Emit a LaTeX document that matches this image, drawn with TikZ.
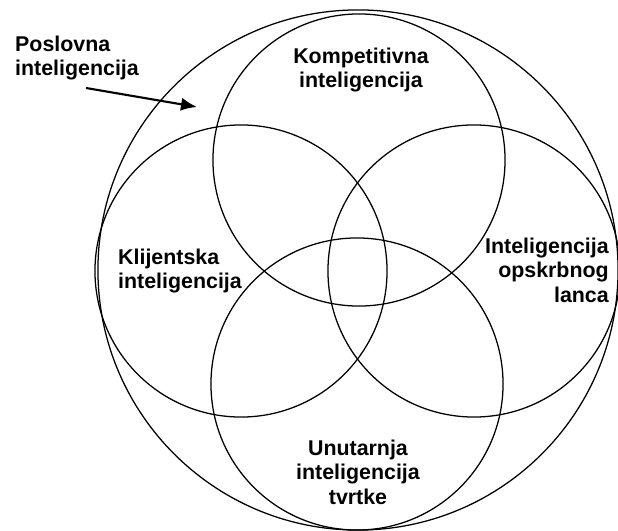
\documentclass[tikz,border=0pt]{standalone}
\usepackage{fontspec}
\setmainfont{Liberation Sans}
\usetikzlibrary{arrows.meta}
\begin{document}
\begin{tikzpicture}
[x=0.025cm,y=-0.025cm,
  circledecorate/.style={shape=circle,inner sep=0pt,outer sep=0pt,draw,line width=0.9pt,minimum size=7.3cm},%
  bigdecorate/.style={circledecorate,minimum size=13cm},%
  labeldecorate/.style={inner sep=0pt,font=\bfseries\fontsize{15.2}{17.5}\selectfont},%
  arrowdecorate/.style={-{Latex[length=4mm,width=3.3mm]},line width=1.5pt}]
\useasboundingbox (0,0) rectangle (618,531);
%% outer circle
\node (poslovna) at (358,270) [bigdecorate] {};
%% inner circles
\foreach \nodename/\x/\y in {kompetitivna/359/160, klijentska/241/271, opskrba/474/271, unutarnja/357/384} {
  \node (\nodename) at (\x,\y) [circledecorate] {};
}
%% labels
\node (lposlovna) at (77,58) [labeldecorate,align=left] {Poslovna\\inteligencija};
\node (lkompetitivna) at (361,70) [labeldecorate,align=center] {Kompetitivna\\inteligencija};
\node (lklijentska) at (180,271) [labeldecorate,align=left] {Klijentska\\inteligencija};
\node (lopskrba) at (609,270) [labeldecorate,align=right,anchor=east] {Inteligencija\\opskrbnog\\lanca};
\node (lunutarnja) at (358,472) [labeldecorate,align=center] {Unutarnja\\inteligencija\\tvrtke};
%% arrow
\coordinate (tail) at (86,88);
\coordinate (tip) at (197,107);
\draw[arrowdecorate] (tail) -- (tip);
\end{tikzpicture}
\end{document}
